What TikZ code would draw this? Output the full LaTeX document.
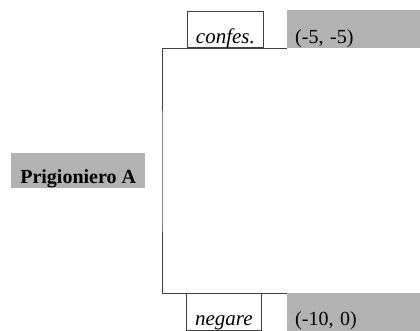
\documentclass[tikz,border=0pt]{standalone}
\usepackage{fontspec}
\setmainfont{Liberation Serif}
\usetikzlibrary{positioning}
\tikzset
{
    player/.style = {rectangle, fill=black!30, anchor=north west, font=\fontsize{20}{22}\selectfont\bfseries, inner xsep=0pt, inner ysep=0pt, minimum width=134pt},
    move/.style   = {rectangle, draw=black!75, line width=0.8pt, fill=white, anchor=north west, font=\fontsize{21}{22}\selectfont\itshape, inner xsep=0pt, inner ysep=0pt},
    payoff/.style = {rectangle, fill=black!30, anchor=north west, font=\fontsize{20}{22}\selectfont, inner xsep=8pt, inner ysep=0pt, text width=117pt, align=left}
}
\begin{document}
\begin{tikzpicture}[x=1pt,y=-1pt]
\useasboundingbox (0,0) rectangle (420,331);
\node [player, text height=30pt, text depth=5pt] at (11,153) (pa) {Prigioniero A};
\node [payoff, text height=33pt, text depth=5pt] at (287,10) (p1) {(-5, -5)};
\node [payoff, text height=32pt, text depth=6pt] at (287,293) (p2) {(-10, 0)};
\coordinate (fork) at (162,171);
\draw [black!75, line width=0.8pt] (p1.south west) -| (fork) |- (p2.north west);
\node [move, minimum width=76pt, text height=32pt, text depth=4pt] at (187,11) (c) {confes.};
\node [move, minimum width=75pt, text height=32pt, text depth=5pt] at (186,293) (n) {negare};
\end{tikzpicture}
\end{document}
